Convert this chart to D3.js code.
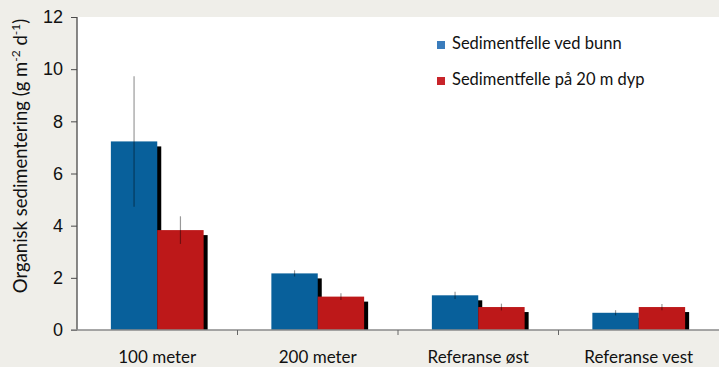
<!DOCTYPE html>
<html>
<head>
<meta charset="utf-8">
<script src="https://cdn.jsdelivr.net/npm/d3@7"></script>
<style>
  body { margin: 0; background: #efeee9; }
  svg { display: block; font-family: Lato, "Open Sans", sans-serif; }
</style>
</head>
<body>
<div id="chart"></div>
<script>
const categories = ['100 meter', '200 meter', 'Referanse øst', 'Referanse vest'];
const seriesNames = ['Sedimentfelle ved bunn', 'Sedimentfelle på 20 m dyp'];
const bunnValues = [7.23, 2.17, 1.33, 0.66];
const bunnErrors = [2.5, 0.12, 0.14, 0.1];
const dypValues = [3.83, 1.28, 0.88, 0.88];
const dypErrors = [0.53, 0.13, 0.13, 0.12];
const yTicks = [0, 2, 4, 6, 8, 10, 12];

const width = 719, height = 367;
const margin = {top: 17, right: 0, bottom: 37, left: 77};
const colors = ['#08609b', '#bd1819'];
const legendColors = ['#3a7cbc', '#c8242a'];

const svg = d3.select('#chart').append('svg')
  .attr('width', width)
  .attr('height', height);

const x0 = d3.scaleBand()
  .domain(categories)
  .range([margin.left, width - margin.right])
  .paddingInner(0.422)
  .paddingOuter(0.211);

const x1 = d3.scaleBand()
  .domain([0, 1])
  .range([0, x0.bandwidth()]);

const y = d3.scaleLinear()
  .domain([0, 12])
  .range([height - margin.bottom, margin.top]);

// white plot area
svg.append('rect')
  .attr('x', margin.left)
  .attr('y', margin.top)
  .attr('width', width - margin.right - margin.left)
  .attr('height', y(0) - margin.top)
  .attr('fill', 'white');

const rows = categories.map((c, i) => ({
  cat: c,
  vals: [
    {s: 0, v: bunnValues[i], e: bunnErrors[i]},
    {s: 1, v: dypValues[i], e: dypErrors[i]}
  ]
}));

const groups = svg.selectAll('g.grp')
  .data(rows)
  .enter()
  .append('g')
    .attr('class', 'grp')
    .attr('transform', d => 'translate(' + x0(d.cat) + ',0)');

// shadows first, then bars
groups.selectAll('rect.shadow')
  .data(d => d.vals)
  .enter()
  .append('rect')
    .attr('class', 'shadow')
    .attr('x', d => x1(d.s) + 4)
    .attr('y', d => y(d.v) + 5)
    .attr('width', x1.bandwidth())
    .attr('height', d => Math.max(0, y(0) - y(d.v) - 5))
    .attr('fill', '#000');

groups.each(function(d) {
  const g = d3.select(this);
  d.vals.forEach(v => {
    g.append('rect')
      .attr('x', x1(v.s))
      .attr('y', y(v.v))
      .attr('width', x1.bandwidth())
      .attr('height', y(0) - y(v.v))
      .attr('fill', colors[v.s]);
  });
});

// error bars
groups.selectAll('line.err')
  .data(d => d.vals)
  .enter()
  .append('line')
    .attr('class', 'err')
    .attr('x1', d => x1(d.s) + x1.bandwidth() / 2)
    .attr('x2', d => x1(d.s) + x1.bandwidth() / 2)
    .attr('y1', d => y(d.v + d.e))
    .attr('y2', d => y(d.v - d.e))
    .attr('stroke', '#000')
    .attr('stroke-opacity', 0.4)
    .attr('stroke-width', 1.2);

// y axis
const yAxis = svg.append('g')
  .attr('transform', 'translate(' + margin.left + ',0)')
  .call(d3.axisLeft(y).tickValues(yTicks).tickSize(6).tickPadding(8).tickFormat(d3.format('d')));
yAxis.select('.domain').attr('stroke', '#4a4a4a').attr('stroke-width', 1.3)
  .attr('d', 'M0,' + y(0) + 'V' + margin.top);
yAxis.selectAll('.tick line').attr('stroke', '#4a4a4a');
yAxis.selectAll('.tick text').style('font-size', '18px').attr('fill', '#111');

// x axis
const xAxisG = svg.append('g')
  .attr('transform', 'translate(0,' + y(0) + ')');
xAxisG.append('line')
  .attr('x1', margin.left - 6).attr('x2', width)
  .attr('stroke', '#8a8a8a').attr('stroke-width', 1.3);
xAxisG.selectAll('line.sep')
  .data(categories.slice(1))
  .enter()
  .append('line')
    .attr('x1', d => x0(d) - x0.step() * 0.211)
    .attr('x2', d => x0(d) - x0.step() * 0.211)
    .attr('y1', 0).attr('y2', 5)
    .attr('stroke', '#666');
xAxisG.selectAll('text')
  .data(categories)
  .enter()
  .append('text')
    .attr('x', d => x0(d) + x0.bandwidth() / 2)
    .attr('y', 32.5)
    .attr('text-anchor', 'middle')
    .style('font-size', '17px')
    .attr('fill', '#111')
    .text(d => d);

// y axis title
const title = svg.append('text')
  .attr('transform', 'translate(27,' + 156 + ') rotate(-90)')
  .attr('text-anchor', 'middle')
  .style('font-size', '18.5px')
  .attr('fill', '#111');
title.append('tspan').text('Organisk sedimentering (g m');
title.append('tspan').attr('dy', -7).style('font-size', '12px').text('-2');
title.append('tspan').attr('dy', 7).text(' d');
title.append('tspan').attr('dy', -7).style('font-size', '12px').text('-1');
title.append('tspan').attr('dy', 7).text(')');

// legend
const legend = svg.selectAll('g.legend')
  .data(seriesNames)
  .enter()
  .append('g')
    .attr('class', 'legend')
    .attr('transform', (d, i) => 'translate(437,' + (41 + i * 36) + ')');
legend.append('rect')
  .attr('width', 8).attr('height', 8)
  .attr('fill', (d, i) => legendColors[i]);
legend.append('text')
  .attr('x', 15).attr('y', 4)
  .attr('dominant-baseline', 'middle')
  .style('font-size', '16.5px')
  .attr('fill', '#111')
  .text(d => d);
</script>
</body>
</html>
